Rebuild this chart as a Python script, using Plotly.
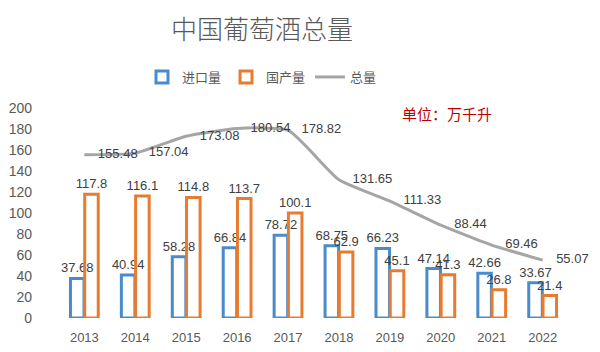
import plotly.graph_objects as go

years = ["2013", "2014", "2015", "2016", "2017", "2018", "2019", "2020", "2021", "2022"]
imports = [37.68, 40.94, 58.28, 66.84, 78.72, 68.75, 66.23, 47.14, 42.66, 33.67]
domestic = [117.8, 116.1, 114.8, 113.7, 100.1, 62.9, 45.1, 41.3, 26.8, 21.4]
total = [155.48, 157.04, 173.08, 180.54, 178.82, 131.65, 111.33, 88.44, 69.46, 55.07]
y_ticks = [0, 20, 40, 60, 80, 100, 120, 140, 160, 180, 200]

BLUE = "#4A8BCB"
ORANGE = "#E97B30"
GREY = "#A5A5A5"
TXT = "#404040"
NUMFONT = "Liberation Sans, Noto Sans CJK SC, sans-serif"
CJK = "Noto Sans CJK SC, sans-serif"
CLEAR = "rgba(0,0,0,0)"

fig = go.Figure()
fig.add_trace(go.Bar(
    x=years, y=imports, name="进口量",
    marker=dict(color=CLEAR, line=dict(color=BLUE, width=3)),
    text=[f"{v:g}" for v in imports], textposition="outside",
    constraintext="none",
    textfont=dict(family=NUMFONT, size=13, color=TXT),
    cliponaxis=False,
))
fig.add_trace(go.Bar(
    x=years, y=domestic, name="国产量",
    marker=dict(color=CLEAR, line=dict(color=ORANGE, width=3)),
    text=[f"{v:g}" for v in domestic], textposition="outside",
    constraintext="none",
    textfont=dict(family=NUMFONT, size=13, color=TXT),
    cliponaxis=False,
))
fig.add_trace(go.Scatter(
    x=years, y=total, name="总量", mode="lines+markers+text",
    line=dict(color=GREY, width=3, shape="spline", smoothing=0.5),
    marker=dict(size=20, color=CLEAR),
    text=[f"{v:g}" for v in total], textposition="middle right",
    textfont=dict(family=NUMFONT, size=13, color=TXT),
    cliponaxis=False,
))

fig.update_layout(
    width=600, height=352,
    margin=dict(l=45, r=18, t=108, b=34),
    paper_bgcolor="white", plot_bgcolor="white",
    barmode="group", bargap=0.44, bargroupgap=0.05,
    title=dict(text="中国葡萄酒总量", x=262/600, xanchor="center",
               y=1-30/352, yanchor="middle", yref="container",
               font=dict(family=CJK, size=26, color="#595959", weight=300)),
    legend=dict(orientation="h", xref="container", yref="container",
                x=262/600, xanchor="center", y=1-77/352, yanchor="middle",
                font=dict(family=CJK, size=13, color="#595959"),
                itemwidth=30, traceorder="normal"),
    showlegend=True,
    annotations=[dict(text="单位：万千升", xref="paper", yref="paper",
                      x=(447-45)/537, y=(318-113)/210, showarrow=False,
                      xanchor="center", yanchor="middle",
                      font=dict(family=CJK, size=15, color="#C00000"))],
)
fig.update_xaxes(showgrid=False, showline=False, zeroline=False,
                 automargin=False,
                 tickfont=dict(family=NUMFONT, size=13, color="#595959"),
                 ticklabelstandoff=10)
fig.update_yaxes(range=[0, 200], tickvals=y_ticks, showgrid=False,
                 showline=False, zeroline=False, automargin=False,
                 tickfont=dict(family=NUMFONT, size=14, color="#595959"),
                 ticklabelstandoff=12)

fig.write_html("out.html")
